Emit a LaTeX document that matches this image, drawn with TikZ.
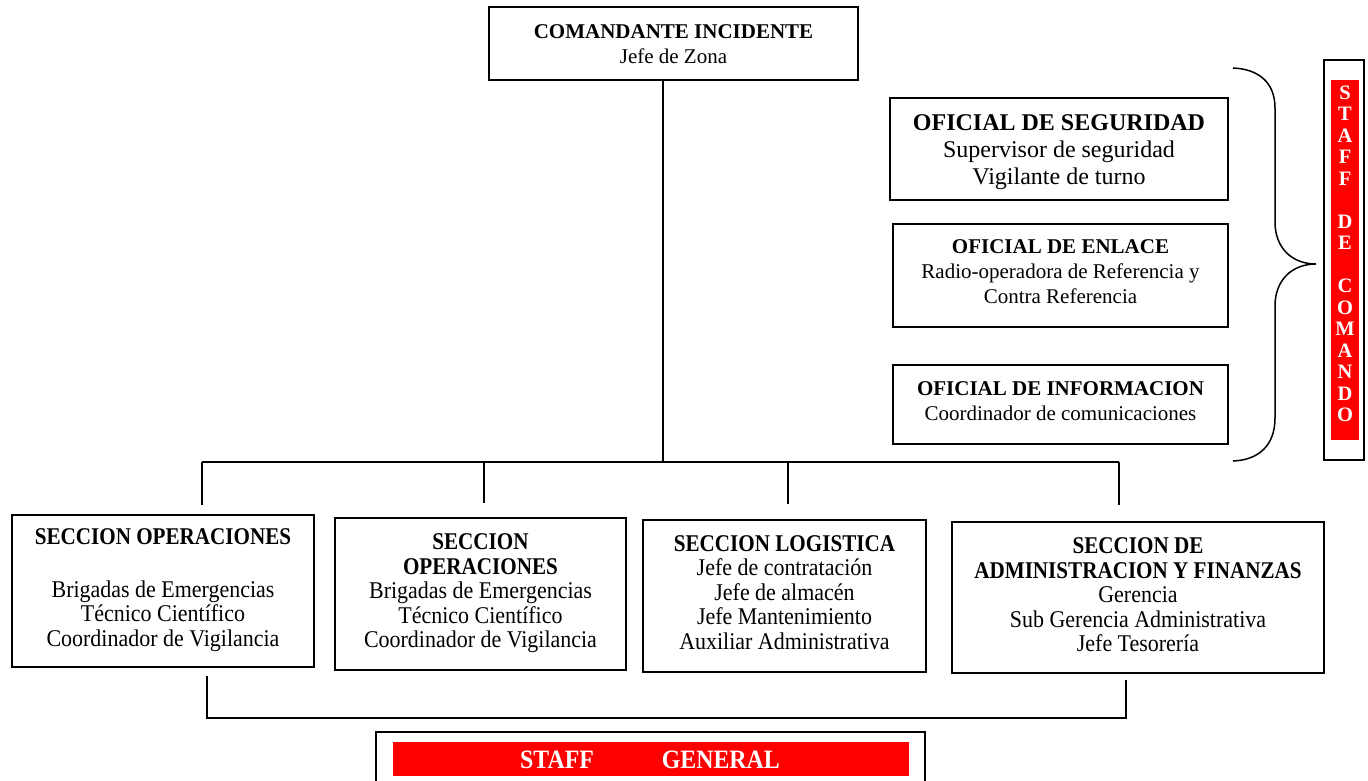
\documentclass[tikz,border=0pt]{standalone}
\usepackage{fontspec}
\setmainfont{Liberation Serif}
\newfontfamily\condfont[FakeStretch=0.915, BoldFeatures={FakeStretch=0.88}]{Liberation Serif}
\newfontfamily\genfont[FakeStretch=0.9]{Liberation Serif}
\definecolor{staffred}{RGB}{255,0,0}
\begin{document}
\begin{tikzpicture}[x=1pt,y=-1pt,
  box/.style={draw, line width=1.6pt, inner sep=0pt},
  redbar/.style={fill=staffred, draw=none, inner sep=0pt},
  txt/.style={align=center, inner sep=0pt},
  conn/.style={line width=1.6pt},
  f21/.style={font=\fontsize{21}{25}\selectfont},
  f24/.style={font=\fontsize{24}{27}\selectfont},
  fcond/.style={font=\condfont\fontsize{24}{24.5}\selectfont}]
\useasboundingbox (0,0) rectangle (1368,780);

% boxes
\node[box, minimum width=369pt, minimum height=73pt] (top) at (673.5,43.5) {};
\node[box, minimum width=338pt, minimum height=102pt] (seg) at (1059,149) {};
\node[box, minimum width=335pt, minimum height=103pt] (enl) at (1060.5,275.5) {};
\node[box, minimum width=335pt, minimum height=79pt] (inf) at (1060.5,404.5) {};
\node[box, minimum width=302pt, minimum height=152pt] (b1) at (163,591) {};
\node[box, minimum width=291pt, minimum height=152pt] (b2) at (480.5,594) {};
\node[box, minimum width=283pt, minimum height=152pt] (b3) at (784.5,596) {};
\node[box, minimum width=372pt, minimum height=151pt] (b4) at (1138,597.5) {};
\node[box, minimum width=40pt, minimum height=400pt] (cmd) at (1344,260) {};
\node[redbar, minimum width=28pt, minimum height=360pt] (cmdred) at (1345,260) {};
\node[box, minimum width=549pt, minimum height=70pt] (gen) at (650.5,767) {};
\node[redbar, minimum width=516pt, minimum height=34pt] (genred) at (650.5,759) {};

% texts
\node[txt, f21] (topt) at (673.5,44) {\textbf{COMANDANTE INCIDENTE}\\Jefe de Zona};
\node[txt, f24] (segt) at (1059,152) {\textbf{OFICIAL DE SEGURIDAD}\\Supervisor de seguridad\\Vigilante de turno};
\node[txt, f21] (enlt) at (1060.5,272) {\textbf{OFICIAL DE ENLACE}\\Radio-operadora de Referencia y\\Contra Referencia};
\node[txt, f21] (inft) at (1060.5,401) {\textbf{OFICIAL DE INFORMACION}\\Coordinador de comunicaciones};
\node[txt, fcond] (b1t) at (163,590) {\textbf{SECCION OPERACIONES}\\[28pt]Brigadas de Emergencias\\T\'ecnico Cient\'ifico\\Coordinador de Vigilancia};
\node[txt, fcond] (b2t) at (480.5,593.5) {\textbf{SECCION}\\\textbf{OPERACIONES}\\Brigadas de Emergencias\\T\'ecnico Cient\'ifico\\Coordinador de Vigilancia};
\node[txt, fcond] (b3t) at (784.5,592.5) {\textbf{SECCION LOGISTICA}\\Jefe de contrataci\'on\\Jefe de almac\'en\\Jefe Mantenimiento\\Auxiliar Administrativa};
\node[txt, fcond] (b4t) at (1138,595) {\textbf{SECCION DE}\\\textbf{ADMINISTRACION Y FINANZAS}\\Gerencia\\Sub Gerencia Administrativa\\Jefe Tesorer\'ia};
\node[txt, text=white, font=\bfseries\fontsize{20.5}{21.5}\selectfont] (cmdt) at (1345,254)
  {S\\T\\A\\F\\F\\[21.5pt]D\\E\\[21.5pt]C\\O\\M\\A\\N\\D\\O};
\node[txt, text=white, font=\genfont\bfseries\fontsize{26.5}{28}\selectfont] (gent) at (650,760)
  {STAFF\hspace{68pt}GENERAL};

% connectors
\coordinate (hub) at (663,462);
\coordinate (d1) at (202,505);
\coordinate (d2) at (484,503);
\coordinate (d3) at (788,504);
\coordinate (d4) at (1119,505);
\draw[conn] (top.south -| hub) -- (hub);
\draw[conn] (d1 |- hub) -- (d4 |- hub);
\draw[conn] (d1 |- hub) -- (d1);
\draw[conn] (d2 |- hub) -- (d2);
\draw[conn] (d3 |- hub) -- (d3);
\draw[conn] (d4 |- hub) -- (d4);

\coordinate (g1) at (207,676);
\coordinate (g2) at (1126,680);
\coordinate (gy) at (0,718);
\draw[conn] (g1) -- (g1 |- gy) -- (g2 |- gy) -- (g2);

% brace
\coordinate (brtop) at (1233,68);
\coordinate (brtip) at (1316,264);
\coordinate (brbot) at (1233,461);
\draw[line width=1.5pt] (brtop) .. controls (1258,69) and (1275,82) .. (1275,108)
  -- (1275,222) .. controls (1275,248) and (1292,264) .. (brtip)
  .. controls (1292,264) and (1275,280) .. (1275,306)
  -- (1275,418) .. controls (1275,446) and (1258,460) .. (brbot);
\end{tikzpicture}
\end{document}
